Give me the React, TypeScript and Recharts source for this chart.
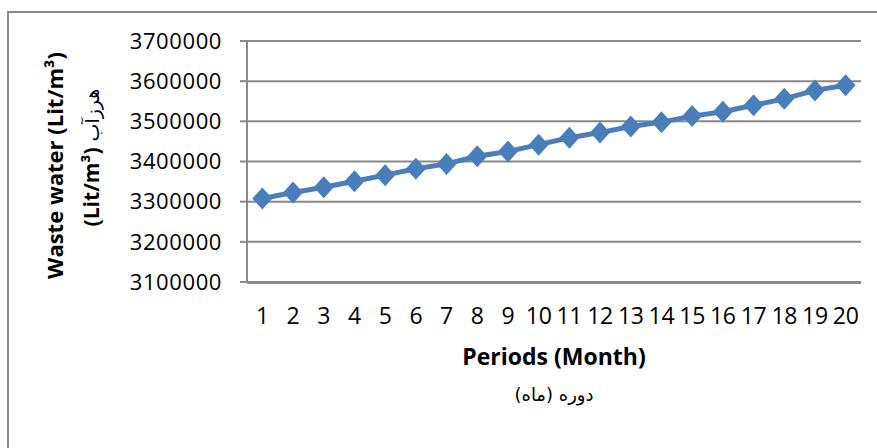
import React from 'react';
import { LineChart, Line, XAxis, YAxis, CartesianGrid, Label } from 'recharts';

// values
const periods = [1, 2, 3, 4, 5, 6, 7, 8, 9, 10, 11, 12, 13, 14, 15, 16, 17, 18, 19, 20];
const wasteWater = [
    3308000, 3323000, 3336000, 3351000, 3366000, 3382000, 3394000, 3413000, 3425000, 3442000,
    3459000, 3472000, 3487000, 3498000, 3513000, 3524000, 3540000, 3556000, 3577000, 3590000,
];
const yTicks = [3100000, 3200000, 3300000, 3400000, 3500000, 3600000, 3700000];
const periodBounds = [...periods.map((p) => p - 0.5), periods[periods.length - 1] + 0.5];

const data = periods.map((p, i) => ({ period: p, value: wasteWater[i] }));

const BLUE = '#4a7ebb';
const GRAY = '#898989';
const FONT = '"Open Sans", "DejaVu Sans", sans-serif';

const Diamond = (props: any) => {
    const { cx, cy } = props;
    if (cx == null || cy == null) return null;
    const r = 11;
    return (
        <polygon
            points={`${cx},${cy - r} ${cx + r - 1},${cy} ${cx},${cy + r} ${cx - r + 1},${cy}`}
            fill={BLUE}
        />
    );
};

const YTitle = (props: any) => {
    const { viewBox } = props;
    const cy = viewBox.y + viewBox.height / 2;
    return (
        <g fontFamily={FONT} fill="#000">
            <text transform={`translate(63, ${cy + 4}) rotate(-90)`} textAnchor="middle" fontSize={22} fontWeight="bold">
                Waste water (Lit/m³)
            </text>
            <text transform={`translate(99, ${cy - 4}) rotate(-90)`} textAnchor="middle" fontSize={21}>
                <tspan fontWeight="bold">(Lit/m³)</tspan>
                <tspan fontFamily='"DejaVu Sans", sans-serif' fontSize={19}> هرزآب</tspan>
            </text>
        </g>
    );
};

const XTitle = (props: any) => {
    const { viewBox } = props;
    const cx = viewBox.x + viewBox.width / 2;
    return (
        <g fill="#000">
            <text x={cx} y={viewBox.y + 83} textAnchor="middle" fontFamily={FONT} fontSize={23} fontWeight="bold">
                Periods (Month)
            </text>
            <text x={cx} y={viewBox.y + 119} textAnchor="middle" fontFamily='"DejaVu Sans", sans-serif' fontSize={18}>
                دوره (ماه)
            </text>
        </g>
    );
};

const App: React.FC = () => {
    return (
        <div style={{ position: 'absolute', left: 0, top: 0, width: 877, height: 448, background: '#fff', overflow: 'hidden' }}>
            <div
                style={{
                    position: 'absolute', left: 7, top: 11, width: 900, height: 500,
                    borderLeft: `2px solid ${GRAY}`, borderTop: `2px solid ${GRAY}`,
                }}
            />
            <div style={{ position: 'absolute', left: 0, top: 0 }}>
                <LineChart width={877} height={448} data={data} margin={{ top: 41, right: 16, bottom: 164, left: 0 }}>
                    <CartesianGrid horizontal vertical={false} stroke={GRAY} strokeWidth={2} />
                    <XAxis
                        xAxisId="bounds"
                        dataKey="period"
                        type="number"
                        domain={[0.5, 20.5]}
                        ticks={periodBounds}
                        height={1}
                        tick={false}
                        tickSize={7}
                        axisLine={{ stroke: GRAY, strokeWidth: 2 }}
                        tickLine={{ stroke: GRAY, strokeWidth: 2 }}
                    />
                    <XAxis
                        dataKey="period"
                        type="number"
                        domain={[0.5, 20.5]}
                        ticks={periods}
                        height={1}
                        axisLine={false}
                        tickLine={false}
                        tickSize={7}
                        tickMargin={19}
                        interval={0}
                        tick={{ fill: '#000', fontSize: 23, fontFamily: FONT, letterSpacing: -0.3 }}
                    >
                        <Label content={<XTitle />} />
                    </XAxis>
                    <YAxis
                        width={247}
                        domain={[3100000, 3700000]}
                        ticks={yTicks}
                        interval={0}
                        tickSize={7}
                        tickMargin={18}
                        axisLine={{ stroke: GRAY, strokeWidth: 2 }}
                        tickLine={{ stroke: GRAY, strokeWidth: 2 }}
                        tick={{ fill: '#000', fontSize: 22, fontFamily: FONT, letterSpacing: 0.6 }}
                    >
                        <Label content={<YTitle />} />
                    </YAxis>
                    <Line
                        type="linear"
                        dataKey="value"
                        stroke={BLUE}
                        strokeWidth={5}
                        dot={<Diamond />}
                        activeDot={false}
                        isAnimationActive={false}
                    />
                </LineChart>
            </div>
        </div>
    );
};

export default App;
